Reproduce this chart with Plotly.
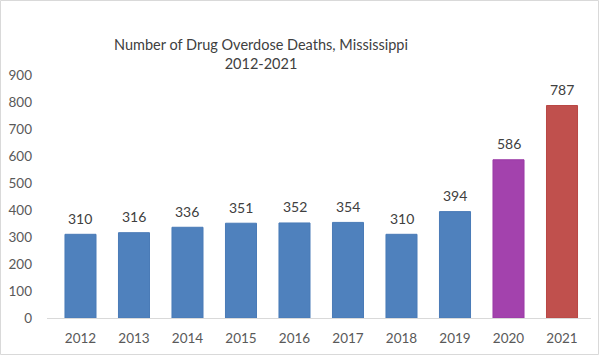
import plotly.graph_objects as go

years = ["2012", "2013", "2014", "2015", "2016", "2017", "2018", "2019", "2020", "2021"]
deaths = [310, 316, 336, 351, 352, 354, 310, 394, 586, 787]
bar_colors = ["#4f81bd"] * 8 + ["#a342ad", "#c0504d"]
line_colors = ["#4a7bb7"] * 8 + ["#9b3aa6", "#b94744"]
y_ticks = [0, 100, 200, 300, 400, 500, 600, 700, 800, 900]

FONT = "Lato, Open Sans, sans-serif"
L, R, T, B = 47, 9, 75, 38
W, H = 600, 356
pw, ph = W - L - R, H - T - B

fig = go.Figure(go.Bar(
    x=years, y=deaths,
    marker=dict(color=bar_colors, line=dict(color=line_colors, width=1)),
))

for i, v in enumerate(deaths):
    fig.add_annotation(x=i, y=v, xref="x", yref="y", text=str(v),
                       showarrow=False, yanchor="middle", yshift=16,
                       font=dict(size=14, color="#404040", family=FONT))

fig.update_layout(
    width=W, height=H,
    margin=dict(l=L, r=R, t=T, b=B),
    paper_bgcolor="white", plot_bgcolor="white",
    bargap=0.42,
    showlegend=False,
    font=dict(family=FONT, color="#595959", size=13),
    title=dict(
        text="Number of Drug Overdose Deaths, Mississippi<br>2012-2021",
        x=261 / W, xanchor="center", xref="container",
        y=1 - 50 / H, yanchor="middle", yref="container",
        font=dict(size=14.5, color="#404040", family=FONT),
    ),
    xaxis=dict(type="category", range=[-0.626, 9.542], showgrid=False, showline=True,
               linecolor="#d9d9d9", linewidth=1, ticks="", ticklabelstandoff=8,
               tickfont=dict(size=13.5, color="#595959")),
    yaxis=dict(range=[0, 900], tickvals=y_ticks, showgrid=False, zeroline=False,
               showline=False, ticks="", ticklabelstandoff=14,
               tickfont=dict(size=13.5, color="#595959")),
    shapes=[dict(type="rect", xref="paper", yref="paper",
                 x0=-(L - 0.5) / pw, x1=1 + (R - 1.5) / pw,
                 y0=-(B - 1.5) / ph, y1=1 + (T - 0.5) / ph,
                 line=dict(color="#d9d9d9", width=1), fillcolor="rgba(0,0,0,0)")],
)

fig.write_html("out.html", config={"displayModeBar": False},
               post_script="document.body.style.margin='0';")
